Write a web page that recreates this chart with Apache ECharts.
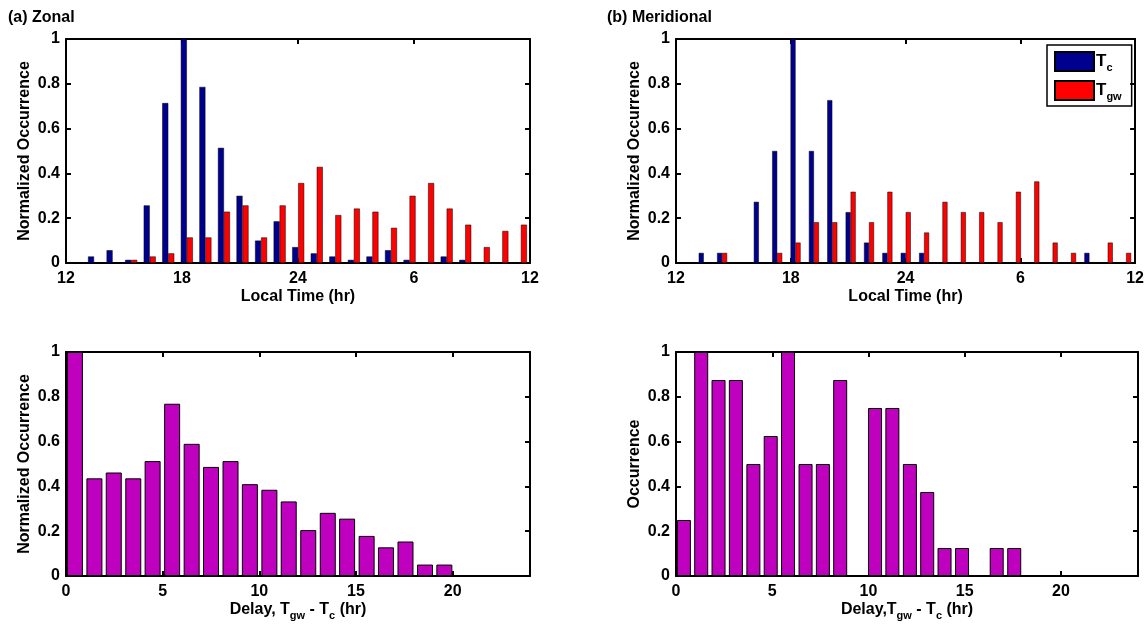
<!DOCTYPE html>
<html><head><meta charset="utf-8">
<script src="https://cdn.jsdelivr.net/npm/echarts@6/dist/echarts.min.js"></script>
<style>html,body{margin:0;padding:0;background:#fff}#c{width:1147px;height:626px}</style>
</head><body><div id="c"></div>
<script>
// ---- data ----
const topBins = [13.45, 14.41, 15.37, 16.33, 17.29, 18.25, 19.21, 20.17, 21.13, 22.09, 23.05, 24.01,
                 24.97, 25.93, 26.89, 27.85, 28.81, 29.77, 30.73, 31.69, 32.65, 33.61, 34.57, 35.53];
const zonalTc  = [0.029, 0.057, 0.014, 0.257, 0.714, 1.0, 0.786, 0.514, 0.300, 0.100, 0.186, 0.071,
                  0.043, 0.029, 0.014, 0.029, 0.057, 0.014, 0, 0.029, 0.014, 0, 0, 0];
const zonalTgw = [0, 0, 0.014, 0.029, 0.043, 0.114, 0.114, 0.229, 0.257, 0.114, 0.257, 0.357,
                  0.429, 0.214, 0.243, 0.229, 0.157, 0.300, 0.357, 0.243, 0.171, 0.071, 0.143, 0.171];
const meridTc  = [0.045, 0.045, 0, 0.273, 0.5, 1.0, 0.5, 0.727, 0.227, 0.091, 0.045, 0.045,
                  0.045, 0, 0, 0, 0, 0, 0, 0, 0, 0.045, 0, 0];
const meridTgw = [0, 0.045, 0, 0, 0.045, 0.091, 0.182, 0.182, 0.318, 0.182, 0.318, 0.227,
                  0.136, 0.273, 0.227, 0.227, 0.182, 0.318, 0.364, 0.091, 0.045, 0, 0.091, 0.045];
const delayBinsZ = [0.46, 1.47, 2.47, 3.48, 4.48, 5.49, 6.50, 7.50, 8.51, 9.51,
                    10.52, 11.52, 12.53, 13.54, 14.54, 15.55, 16.55, 17.56, 18.57, 19.57];
const zonalDelay = [1.0, 0.436, 0.462, 0.436, 0.513, 0.769, 0.590, 0.487, 0.513, 0.410,
                    0.385, 0.333, 0.205, 0.282, 0.256, 0.179, 0.128, 0.154, 0.051, 0.051];
const delayBinsM = [0.41, 1.31, 2.21, 3.11, 4.02, 4.92, 5.82, 6.73, 7.63, 8.53,
                    9.44, 10.34, 11.24, 12.15, 13.05, 13.95, 14.86, 15.76, 16.66, 17.57];
const meridDelay = [0.25, 1.0, 0.875, 0.875, 0.5, 0.625, 1.0, 0.5, 0.5, 0.875,
                    0, 0.75, 0.75, 0.5, 0.375, 0.125, 0.125, 0, 0.125, 0.125];
const localTimeTicks = [12, 18, 24, 30, 36];   // shown as 12, 18, 24, 6, 12
const delayTicks = [0, 5, 10, 15, 20];

// ---- styling ----
const FONT = '"Liberation Sans", Arial, sans-serif';
const TXT = {fontFamily: FONT, fontWeight: 'bold', color: '#000'};
const grids = [
  {left: 66, top: 39, width: 464, height: 224},
  {left: 676, top: 39, width: 462, height: 224},
  {left: 66, top: 352, width: 464, height: 224},
  {left: 676, top: 352, width: 462, height: 224}
];
const tick = {show: true, inside: true, length: 5, lineStyle: {color: '#000', width: 2}};
const line = {show: true, onZero: false, lineStyle: {color: '#000', width: 2}};
const subRich = {s: Object.assign({}, TXT, {fontSize: 11, padding: [12, 0, 0, 0]})};

const xAxes = [], yAxes = [];
grids.forEach((g, gi) => {
  const isTop = gi < 2;
  const base = isTop
    ? {min: 12, max: 36, interval: 6}
    : {min: 0, max: 24, interval: 5};
  const fmt = isTop
    ? (v => localTimeTicks.includes(v) ? String(v > 24 ? v - 24 : v) : '')
    : (v => delayTicks.includes(v) ? String(v) : '');
  const name = isTop ? 'Local Time (hr)'
    : (gi === 2 ? 'Delay, T{s|gw} - T{s|c} (hr)' : 'Delay,T{s|gw} - T{s|c} (hr)');
  xAxes.push(Object.assign({type: 'value', gridIndex: gi, position: 'bottom',
    name: name, nameLocation: 'middle', nameGap: isTop ? 26 : 22,
    nameTextStyle: Object.assign({}, TXT, {fontSize: 16, rich: subRich}),
    axisLine: line, axisTick: tick, splitLine: {show: false},
    axisLabel: Object.assign({}, TXT, {fontSize: 16, margin: 8, formatter: fmt})}, base));
  xAxes.push(Object.assign({type: 'value', gridIndex: gi, position: 'top',
    axisLine: line, axisTick: tick, splitLine: {show: false}, axisLabel: {show: false}}, base));
  const yname = gi === 3 ? 'Occurrence' : 'Normalized Occurrence';
  yAxes.push({type: 'value', gridIndex: gi, position: 'left', min: 0, max: 1, interval: 0.2,
    name: yname, nameLocation: 'middle', nameGap: 33,
    nameTextStyle: Object.assign({}, TXT, {fontSize: 16}),
    axisLine: line, axisTick: tick, splitLine: {show: false},
    axisLabel: Object.assign({}, TXT, {fontSize: 16, margin: 6})});
  yAxes.push({type: 'value', gridIndex: gi, position: 'right', min: 0, max: 1, interval: 0.2,
    axisLine: line, axisTick: tick, splitLine: {show: false}, axisLabel: {show: false}});
});

const BLUE = '#00008f', RED = '#ff0000', MAG = '#bf00bf';
const pairs = (xs, ys) => xs.map((x, i) => [x, ys[i]]);
const barSeries = (name, gi, xs, ys, color, w, bw) => ({
  type: 'bar', name: name, xAxisIndex: gi * 2, yAxisIndex: gi * 2,
  data: pairs(xs, ys), barWidth: w, barGap: '0%', clip: true,
  itemStyle: {color: color, borderColor: '#000', borderWidth: bw},
  emphasis: {disabled: true}, animation: false
});

const option = {
  backgroundColor: '#fff',
  animation: false,
  title: [
    {text: '(a) Zonal', left: 8, top: 10, padding: 0, textStyle: Object.assign({}, TXT, {fontSize: 16})},
    {text: '(b) Meridional', left: 607, top: 10, padding: 0, textStyle: Object.assign({}, TXT, {fontSize: 16})}
  ],
  legend: {
    data: ['Tc', 'Tgw'], orient: 'vertical', left: 1047, top: 45,
    padding: [6, 10, 4, 7], itemWidth: 39, itemHeight: 19, itemGap: 7, icon: 'rect',
    borderColor: '#000', borderWidth: 1.5, selectedMode: false,
    formatter: n => n === 'Tc' ? 'T{s|c}' : 'T{s|gw}',
    textStyle: Object.assign({}, TXT, {fontSize: 17, padding: [0, 0, 0, -3], rich: subRich})
  },
  grid: grids.map(g => Object.assign({show: false}, g)),
  xAxis: xAxes,
  yAxis: yAxes,
  series: [
    barSeries('Tc', 0, topBins, zonalTc, BLUE, 6, 0.5),
    barSeries('Tgw', 0, topBins, zonalTgw, RED, 6, 0.5),
    barSeries('Tc', 1, topBins, meridTc, BLUE, 5, 0.5),
    barSeries('Tgw', 1, topBins, meridTgw, RED, 5, 0.5),
    barSeries('Delay', 2, delayBinsZ, zonalDelay, MAG, 16, 1),
    barSeries('Delay', 3, delayBinsM, meridDelay, MAG, 14, 1)
  ]
};
const chart = echarts.init(document.getElementById('c'), null, {renderer: 'canvas'});
chart.setOption(option);
</script></body></html>
